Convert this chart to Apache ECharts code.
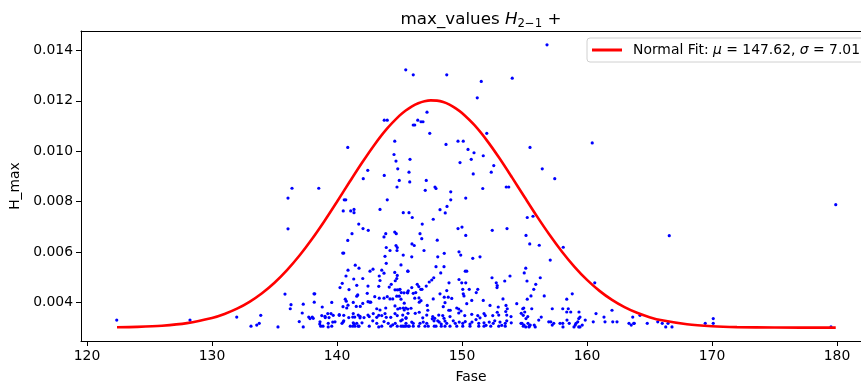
<!DOCTYPE html>
<html>
<head>
<meta charset="utf-8">
<script src="https://cdn.jsdelivr.net/npm/echarts@6/dist/echarts.min.js"></script>
<style>
html,body{margin:0;padding:0;background:#fff;}
#chart{width:861px;height:389px;}
</style>
</head>
<body>
<div id="chart"></div>
<script>
// ---- data (Fase, H_max) ----
const xTicks = [120, 130, 140, 150, 160, 170, 180];
const yTicks = [0.004, 0.006, 0.008, 0.010, 0.012, 0.014];

const pointsLeft = [
[122.38,0.00330],[128.24,0.00330],[131.98,0.00342],[133.12,0.00306],[133.58,0.00310],[133.78,0.00317],
[133.90,0.00349],[135.28,0.00303],[135.84,0.00433],[136.32,0.00391],[136.26,0.00375],[137.30,0.00393],
[138.16,0.00434],[138.22,0.00434],[138.18,0.00401],[136.98,0.00324],[137.30,0.00303],[137.74,0.00342],
[137.84,0.00336],[138.02,0.00342],[138.64,0.00323],[138.70,0.00306],[139.04,0.00345],[139.30,0.00303],
[139.58,0.00306],[139.70,0.00349],[139.84,0.00323],[140.18,0.00349],[140.78,0.00378],[140.50,0.00323],
[141.26,0.00342],[141.30,0.00319],[141.44,0.00306],[141.70,0.00306],[141.84,0.00339],[137.22,0.00358],
[138.10,0.00337],[138.78,0.00348],[139.26,0.00356],[139.52,0.00356],[139.06,0.00340],[139.36,0.00340],
[138.62,0.00314],[138.88,0.00306],[139.30,0.00317],[139.66,0.00322],[138.82,0.00382],[139.58,0.00400]
];

const pointsUpper = [
[136.40,0.00853],[138.54,0.00853],[136.08,0.00814],[136.08,0.00692],[140.86,0.01015],[142.10,0.00891],
[142.46,0.00924],[140.58,0.00807],[140.70,0.00807],[140.50,0.00763],[141.10,0.00763],[141.36,0.00769],
[141.36,0.00756],[141.74,0.00711],[142.08,0.00693],[142.50,0.00686],[141.20,0.00673],[140.86,0.00646],
[143.44,0.00769],[143.78,0.01123],[144.02,0.01123],[143.78,0.00904],[144.02,0.00807],[143.90,0.00673],
[143.76,0.00660],[144.62,0.01040],[144.56,0.00987],[144.72,0.00961],[144.86,0.00930],[144.80,0.00858],
[144.98,0.00884],[144.62,0.00679],[144.74,0.00673],[145.30,0.00756],[145.76,0.00756],[145.50,0.01323],
[146.10,0.01303],[148.78,0.01303],[151.54,0.01277],[154.02,0.01290],[151.22,0.01212],[147.20,0.01155],
[146.46,0.01123],[146.10,0.01104],[146.22,0.01104],[146.72,0.01117],[146.88,0.01117],[147.42,0.01071],
[151.98,0.01071],[149.68,0.01040],[150.10,0.01040],[148.72,0.01027],[150.48,0.01007],[150.96,0.00994],
[151.70,0.00982],[145.84,0.00968],[150.74,0.00968],[149.84,0.00955],[152.54,0.00943],[145.76,0.00917],
[152.34,0.00917],[150.90,0.00910],[147.14,0.00884],[145.82,0.00878],[153.54,0.00858],[153.74,0.00858],
[147.84,0.00858],[147.92,0.00852],[147.06,0.00845],[151.66,0.00852],[149.10,0.00839],[149.10,0.00807],
[150.30,0.00814],[148.80,0.00781],[148.66,0.00755],[148.24,0.00768],[146.02,0.00737],[147.70,0.00730],
[155.22,0.00737],[155.68,0.00742],[146.82,0.00711],[149.68,0.00693],[150.00,0.00699],[152.42,0.00686],
[153.60,0.00693],[146.64,0.00673],[146.78,0.00653],[150.30,0.00666],[155.12,0.00666],[148.02,0.00647],
[155.44,0.01015],[160.42,0.01033],[156.42,0.00930],[157.42,0.00891],[179.90,0.00788],[166.58,0.00665],
[156.80,0.01422]
];

const pointsRight = [
[155.42,0.00632],[156.18,0.00627],[158.10,0.00619],[157.06,0.00568],[155.10,0.00536],[154.98,0.00517],
[156.26,0.00498],[155.20,0.00485],[155.90,0.00472],[155.74,0.00452],[156.58,0.00426],[155.52,0.00426],
[155.22,0.00413],[158.82,0.00434],[158.38,0.00413],[160.62,0.00478],
[154.86,0.00375],[155.58,0.00375],[157.22,0.00375],[158.06,0.00375],[158.50,0.00375],[154.90,0.00349],
[155.02,0.00362],[155.12,0.00336],[156.34,0.00342],[158.38,0.00362],[158.70,0.00362],[159.36,0.00362],
[159.34,0.00336],[159.44,0.00342],[160.72,0.00356],[162.00,0.00369],[161.36,0.00342],[163.66,0.00342],
[164.24,0.00349],[170.10,0.00336],[169.46,0.00317],[170.10,0.00317],[154.72,0.00317],[154.96,0.00310],
[155.10,0.00303],[155.36,0.00303],[155.46,0.00310],[155.78,0.00310],[155.86,0.00303],[156.14,0.00330],
[156.94,0.00323],[157.10,0.00323],[157.22,0.00310],[157.34,0.00317],[157.84,0.00317],[158.06,0.00317],
[158.08,0.00303],[158.40,0.00330],[158.58,0.00317],[158.96,0.00303],[159.06,0.00310],[159.12,0.00317],
[159.26,0.00323],[159.34,0.00303],[159.44,0.00303],[159.62,0.00310],[159.86,0.00330],[160.50,0.00323],
[161.44,0.00323],[162.06,0.00323],[162.40,0.00323],[163.36,0.00317],[163.54,0.00310],[163.74,0.00317],
[163.78,0.00317],[164.82,0.00317],[165.66,0.00323],[166.02,0.00317],[166.30,0.00303],[166.48,0.00317],
[166.80,0.00303],[179.52,0.00303]
];

const pointsCoreA = [
[140.46,0.00596],[140.54,0.00596],[143.94,0.00618],[144.24,0.00606],[144.72,0.00626],[144.82,0.00618],
[144.80,0.00606],[143.84,0.00583],[143.94,0.00555],[141.46,0.00548],[141.76,0.00536],[140.88,0.00528],
[140.72,0.00505],[142.64,0.00524],[142.88,0.00532],[143.58,0.00528],[143.38,0.00505],[143.44,0.00487],
[143.76,0.00516],[144.62,0.00519],[144.82,0.00507],[144.78,0.00495],[145.66,0.00524],[141.34,0.00493],
[141.58,0.00468],[142.06,0.00495],[140.42,0.00476],[140.24,0.00459],[140.96,0.00451],[142.48,0.00465],
[143.34,0.00464],[144.18,0.00461],[144.34,0.00472],[144.66,0.00486],[144.64,0.00450],[144.82,0.00450],
[144.98,0.00450],[145.36,0.00438],[145.66,0.00438],[145.70,0.00446],[141.58,0.00425],[141.66,0.00430],
[142.42,0.00436],[143.02,0.00423],[143.38,0.00417],[143.76,0.00417],[144.02,0.00423],[144.24,0.00414],
[144.46,0.00414],[144.78,0.00425],[144.98,0.00425],[140.48,0.00383],[140.66,0.00413],[140.74,0.00405],
[140.88,0.00389],[141.30,0.00400],[141.54,0.00384],[141.86,0.00384],[142.06,0.00396],[142.48,0.00403],
[142.62,0.00401],[142.70,0.00401],[143.18,0.00375],[143.44,0.00370],[143.90,0.00378],[144.64,0.00386],
[144.86,0.00374],[145.04,0.00377],[145.30,0.00378],[145.50,0.00378],[145.66,0.00374],[140.18,0.00352],
[140.54,0.00349],[140.94,0.00340],[141.30,0.00356],[141.42,0.00342],[141.70,0.00350],[141.84,0.00345],
[142.16,0.00340],[142.48,0.00350],[142.58,0.00344],[142.90,0.00356],[143.18,0.00341],[143.34,0.00349],
[143.58,0.00348],[143.84,0.00356],[143.94,0.00341],[144.30,0.00341],[144.64,0.00356],[144.82,0.00348],
[145.26,0.00350],[145.52,0.00340],[140.40,0.00317],[140.54,0.00327],[141.06,0.00306],[141.26,0.00306],
[141.38,0.00314],[141.58,0.00317],[141.76,0.00306],[142.00,0.00319],[142.58,0.00306],[142.86,0.00327],
[143.18,0.00317],[143.34,0.00303],[143.58,0.00306],[143.76,0.00324],[144.10,0.00317],[144.30,0.00306],
[144.46,0.00311],[144.66,0.00317],[144.82,0.00306],[145.10,0.00327],[145.26,0.00306],[145.52,0.00317],
[145.70,0.00306]
];

const pointsCoreB = [
[146.00,0.00632],[146.18,0.00626],[145.30,0.00588],[145.98,0.00581],[146.96,0.00606],[148.58,0.00595],
[148.06,0.00581],[149.76,0.00601],[149.90,0.00588],[150.86,0.00575],[151.44,0.00581],[145.12,0.00549],
[147.92,0.00542],[148.56,0.00542],[145.68,0.00524],[148.30,0.00517],[150.26,0.00524],[150.38,0.00524],
[149.76,0.00491],[149.98,0.00478],[150.30,0.00478],[147.74,0.00498],[147.58,0.00489],[147.38,0.00481],
[147.14,0.00465],[146.42,0.00472],[146.54,0.00463],[146.70,0.00452],[145.98,0.00459],[148.96,0.00478],
[152.40,0.00498],[152.74,0.00478],[152.82,0.00467],[152.80,0.00459],[153.42,0.00485],[153.84,0.00505],
[145.04,0.00452],[145.14,0.00439],[145.62,0.00439],[146.10,0.00436],[146.30,0.00439],[146.80,0.00452],
[147.70,0.00414],[148.24,0.00434],[148.78,0.00447],[148.58,0.00421],[148.90,0.00421],[149.18,0.00416],
[150.06,0.00452],[150.10,0.00434],[150.16,0.00426],[150.58,0.00452],[151.26,0.00452],[151.14,0.00439],
[150.78,0.00408],[151.70,0.00408],[153.28,0.00414],[145.12,0.00413],[146.22,0.00417],[146.56,0.00418],
[146.72,0.00407],[145.38,0.00397],[146.58,0.00401],[147.22,0.00388],[148.50,0.00383],[148.64,0.00399],
[148.94,0.00369],[149.06,0.00369],[150.38,0.00395],[149.58,0.00378],[152.24,0.00388],[152.90,0.00382],
[153.52,0.00388],[153.62,0.00375],[154.38,0.00395],[154.94,0.00378],[145.38,0.00370],[145.92,0.00377],
[146.26,0.00357],[145.68,0.00357],[146.58,0.00361],[146.86,0.00339],[147.18,0.00350],[147.26,0.00369],
[147.66,0.00344],[147.82,0.00337],[148.14,0.00350],[148.46,0.00348],[148.56,0.00337],[149.04,0.00344],
[149.74,0.00374],[149.74,0.00358],[149.92,0.00366],[150.22,0.00348],[150.78,0.00353],[151.26,0.00348],
[151.44,0.00339],[151.76,0.00356],[151.86,0.00348],[152.46,0.00348],[152.82,0.00361],[152.94,0.00350],
[153.50,0.00364],[153.58,0.00350],[153.92,0.00344],[154.74,0.00357],[155.26,0.00344],[145.22,0.00331],
[145.52,0.00337],[145.98,0.00322],[146.10,0.00317],[146.64,0.00317],[146.90,0.00322],[147.18,0.00317],
[147.62,0.00335],[147.76,0.00327],[148.06,0.00327],[148.18,0.00322],[148.34,0.00314],[148.64,0.00326],
[148.78,0.00317],[149.30,0.00327],[149.46,0.00317],[149.78,0.00322],[150.06,0.00317],[150.26,0.00324],
[150.64,0.00314],[150.80,0.00322],[151.12,0.00332],[151.34,0.00317],[151.76,0.00319],[151.92,0.00309],
[152.18,0.00322],[152.50,0.00317],[152.62,0.00327],[153.04,0.00322],[153.18,0.00309],[153.46,0.00317],
[153.58,0.00327],[153.94,0.00319],[154.80,0.00317],[154.90,0.00306],[155.28,0.00317],[155.38,0.00306],
[145.12,0.00306],[145.38,0.00306],[145.50,0.00306],[145.78,0.00306],[146.10,0.00306],[146.54,0.00306],
[147.04,0.00306],[147.30,0.00306],[147.78,0.00306],[147.92,0.00306],[148.34,0.00306],[148.64,0.00306],
[149.04,0.00306],[149.58,0.00306],[150.06,0.00306],[150.64,0.00306],[151.34,0.00306],[151.76,0.00306],
[152.30,0.00306],[152.94,0.00306],[153.46,0.00306]
];

// Normal fit curve
const fitX = [122.4,124,126,128,130,131,132,133,134,135,136,137,138,139,140,141,142,143,144,145,145.5,146,146.5,147,147.5,148,148.5,149,149.5,150,151,152,153,154,155,156,157,158,159,160,161,162,163,164,165,166,168,170,172,175,179.9];
const fitY = [0.003014,0.003031,0.003078,0.003180,0.003383,0.003543,0.003753,0.004025,0.004366,0.004783,0.005283,0.005862,0.006518,0.007235,0.007996,0.008776,0.009541,0.010259,0.010894,0.011411,0.011617,0.011783,0.011906,0.011985,0.012019,0.012007,0.011949,0.011847,0.011701,0.011515,0.011031,0.010421,0.009719,0.008961,0.008183,0.007414,0.006685,0.006014,0.005415,0.004895,0.004459,0.004100,0.003813,0.003588,0.003417,0.003290,0.003132,0.003055,0.003021,0.003004,0.003000];

const FONT = 'DejaVu Sans';
const chart = echarts.init(document.getElementById('chart'), null, {renderer: 'canvas'});
const scatterData = [].concat(pointsLeft, pointsUpper, pointsRight, pointsCoreA, pointsCoreB);
const fitData = fitX.map((x, i) => [x, fitY[i]]);
const X_MIN = 119.52, X_MAX = 181.92;

chart.setOption({
  animation: false,
  backgroundColor: '#fff',
  title: {
    text: 'max_values {i|H}{s|2−1} +',
    left: 476, top: 5, textAlign: 'center',
    textStyle: {
      fontFamily: FONT, fontSize: 16.7, fontWeight: 'normal', color: '#000', lineHeight: 20,
      rich: {
        i: {fontFamily: FONT, fontSize: 16.7, fontStyle: 'italic', color: '#000', lineHeight: 20},
        s: {fontFamily: FONT, fontSize: 11.7, color: '#000', lineHeight: 10, verticalAlign: 'bottom'}
      }
    }
  },
  legend: {
    left: 587, top: 38,
    padding: [5, 12, 5, 5],
    borderColor: '#d0d0d0', borderWidth: 1, borderRadius: 3,
    backgroundColor: 'rgba(255,255,255,0.8)',
    itemWidth: 30, itemHeight: 3,
    data: [{name: 'Normal Fit', icon: 'rect'}],
    formatter: () => '{g| }Normal Fit: {i|μ} = 147.62, {i|σ} = 7.01',
    textStyle: {
      fontFamily: FONT, fontSize: 13.9, color: '#000',
      rich: {
        g: {width: 6, fontSize: 13.9, fontFamily: FONT},
        i: {fontStyle: 'italic', fontSize: 13.9, fontFamily: FONT, color: '#000'}
      }
    }
  },
  grid: {left: 81, top: 31, right: 0, bottom: 44, show: false, containLabel: false},
  xAxis: [{
    type: 'value', min: X_MIN, max: X_MAX,
    name: 'Fase', nameLocation: 'middle', nameGap: 29,
    nameTextStyle: {fontFamily: FONT, fontSize: 13.9, color: '#000'},
    axisLine: {show: true, onZero: false, lineStyle: {color: '#000', width: 1}},
    axisTick: {show: true, length: 5, lineStyle: {color: '#000', width: 1}, customValues: xTicks},
    axisLabel: {fontFamily: FONT, fontSize: 13.9, color: '#000', margin: 8, customValues: xTicks,
      formatter: v => String(Math.round(v))},
    splitLine: {show: false}
  }, {
    type: 'value', position: 'top', min: X_MIN, max: X_MAX,
    axisLine: {show: true, onZero: false, lineStyle: {color: '#000', width: 1}},
    axisTick: {show: false}, axisLabel: {show: false}, splitLine: {show: false}
  }],
  yAxis: {
    type: 'value', min: 0.00247, max: 0.01477,
    name: 'H_max', nameLocation: 'middle', nameGap: 51, nameRotate: 90,
    nameTextStyle: {fontFamily: FONT, fontSize: 13.9, color: '#000'},
    axisLine: {show: true, onZero: false, lineStyle: {color: '#000', width: 1}},
    axisTick: {show: true, length: 5, lineStyle: {color: '#000', width: 1}, customValues: yTicks},
    axisLabel: {fontFamily: FONT, fontSize: 13.9, color: '#000', margin: 8, customValues: yTicks,
      formatter: v => v.toFixed(3)},
    splitLine: {show: false}
  },
  series: [
    {
      type: 'scatter', name: 'points', data: scatterData,
      symbol: 'circle', symbolSize: 3.2,
      itemStyle: {color: '#0000ff', opacity: 1}, z: 2, silent: true
    },
    {
      type: 'line', name: 'Normal Fit', data: fitData,
      smooth: 0.3, showSymbol: false, symbol: 'none',
      lineStyle: {color: '#ff0000', width: 2.6},
      itemStyle: {color: '#ff0000'}, z: 3, silent: true
    }
  ]
});
</script>
</body>
</html>
